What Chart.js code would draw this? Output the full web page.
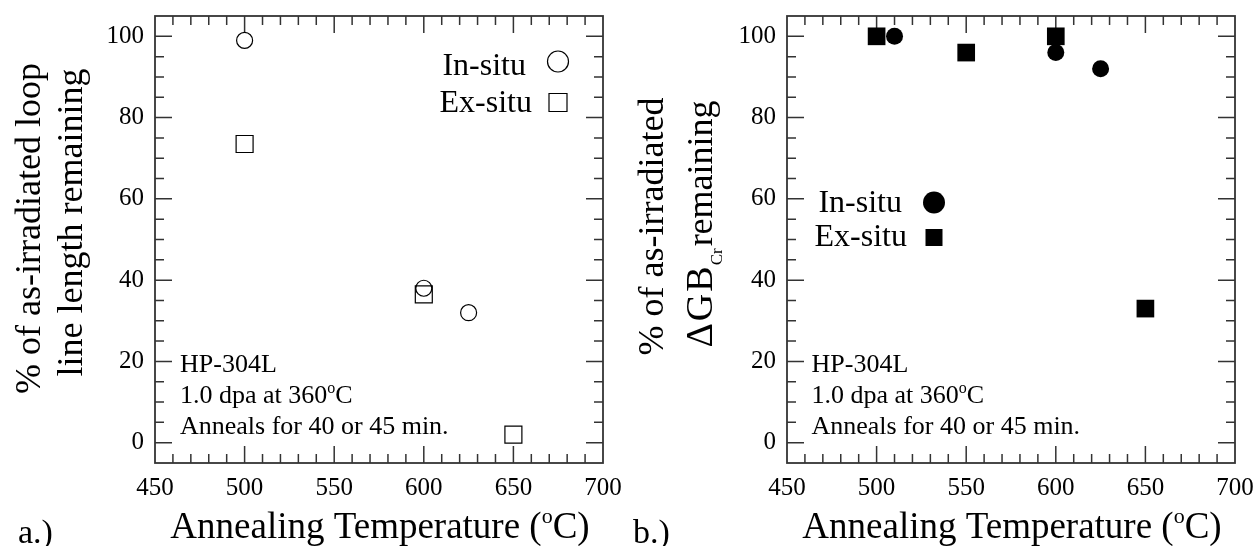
<!DOCTYPE html>
<html>
<head>
<meta charset="utf-8">
<title>Annealing recovery, HP-304L</title>
<script src="https://cdn.jsdelivr.net/npm/chart.js@4.4.0/dist/chart.umd.min.js"></script>
<style>
  html, body { margin: 0; padding: 0; background: #fff; }
  #wrap { position: relative; width: 1260px; height: 546px; overflow: hidden; }
  .panel { position: absolute; top: 0; width: 630px; height: 546px; }
</style>
</head>
<body>
<div id="wrap">
  <div class="panel" style="left:0"><canvas id="loopChart" width="630" height="546"></canvas></div>
  <div class="panel" style="left:630px"><canvas id="crChart" width="630" height="546"></canvas></div>
</div>
<script>
// panel a.) loop line length remaining
const tempInSituA = [500, 600, 625];
const loopInSitu = [99, 38, 32];
const tempExSituA = [500, 600, 650];
const loopExSitu = [73.5, 36.5, 2];

// panel b.) delta GB Cr remaining
const tempInSituB = [510, 600, 625];
const crInSitu = [100, 96, 92];
const tempExSituB = [500, 550, 600, 650];
const crExSitu = [100, 96, 100, 33];

const xTickLabels = [450, 500, 550, 600, 650, 700];
const yTickLabels = [0, 20, 40, 60, 80, 100];

const SERIF = "'Liberation Serif', 'Times New Roman', serif";
const INK = "#000";
const FRAME = "#333";

function font(size) {
  return size + "px " + SERIF;
}

function toPoints(xs, ys) {
  return xs.map((x, i) => ({ x, y: ys[i] }));
}

// runs: [text, size, dy, gapAfter]
function runsWidth(ctx, runs) {
  let w = 0;
  runs.forEach(([text, size, dy, gap]) => {
    ctx.font = font(size);
    w += ctx.measureText(text).width + (gap || 0);
  });
  return w;
}

function drawRuns(ctx, runs, x, y) {
  let cx = x;
  ctx.textAlign = "left";
  ctx.textBaseline = "alphabetic";
  runs.forEach(([text, size, dy, gap]) => {
    ctx.font = font(size);
    ctx.fillText(text, cx, y + (dy || 0));
    cx += ctx.measureText(text).width + (gap || 0);
  });
}

function drawRunsCentered(ctx, runs, cx, y) {
  drawRuns(ctx, runs, cx - runsWidth(ctx, runs) / 2, y);
}

// vertical text, reading bottom to top
function drawVertical(ctx, runs, baseX, centerY) {
  const w = runsWidth(ctx, runs);
  ctx.save();
  ctx.translate(baseX, centerY + w / 2);
  ctx.rotate(-Math.PI / 2);
  drawRuns(ctx, runs, 0, 0);
  ctx.restore();
}

function marker(ctx, style, x, y, size, filled) {
  ctx.beginPath();
  if (style === "circle") {
    ctx.arc(x, y, size / 2, 0, Math.PI * 2);
  } else {
    ctx.rect(x - size / 2, y - size / 2, size, size);
  }
  if (filled) {
    ctx.fill();
  } else {
    ctx.stroke();
  }
}

function legendItem(ctx, label, textRight, baseline, style, mx, my, size, filled) {
  ctx.font = font(32);
  ctx.textAlign = "right";
  ctx.textBaseline = "alphabetic";
  ctx.fillText(label, textRight, baseline);
  marker(ctx, style, mx, my, size, filled);
}

function drawNotes(ctx, x) {
  drawRuns(ctx, [["HP-304L", 26]], x, 371.5);
  drawRuns(ctx, [["1.0 dpa at 360", 26], ["o", 16, -10], ["C", 26]], x, 403);
  drawRuns(ctx, [["Anneals for 40 or 45 min.", 26]], x, 433.5);
}

function drawXTitle(ctx, cx) {
  drawRunsCentered(ctx, [["Annealing Temperature (", 37], ["o", 22, -15], ["C)", 37]], cx, 538);
}

// box frame and inward major/minor ticks on all four sides
const frameTicks = {
  id: "frameTicks",
  beforeDatasetsDraw(chart) {
    const { ctx, chartArea: a, scales } = chart;
    const sx = scales.x;
    const sy = scales.y;
    ctx.save();
    ctx.strokeStyle = FRAME;
    ctx.lineWidth = 1.5;
    ctx.beginPath();
    sx.ticks.forEach((t) => {
      if (t.value <= sx.min || t.value >= sx.max) return;
      const px = sx.getPixelForValue(t.value);
      const len = xTickLabels.includes(t.value) ? 17 : 9;
      ctx.moveTo(px, a.bottom);
      ctx.lineTo(px, a.bottom - len);
      ctx.moveTo(px, a.top);
      ctx.lineTo(px, a.top + len);
    });
    sy.ticks.forEach((t) => {
      if (t.value <= sy.min || t.value >= sy.max) return;
      const py = sy.getPixelForValue(t.value);
      const len = yTickLabels.includes(t.value) ? 17 : 9;
      ctx.moveTo(a.left, py);
      ctx.lineTo(a.left + len, py);
      ctx.moveTo(a.right, py);
      ctx.lineTo(a.right - len, py);
    });
    ctx.stroke();
    ctx.lineWidth = 1.8;
    ctx.strokeRect(a.left, a.top, a.right - a.left, a.bottom - a.top);
    ctx.restore();
  },
};

function makeChart(canvasId, datasets, axisWidth, padRight, decorate) {
  const el = document.getElementById(canvasId);
  if (!el) return null;
  return new Chart(el, {
    type: "scatter",
    data: { datasets },
    options: {
      responsive: false,
      animation: false,
      events: [],
      layout: { padding: { top: 16, right: padRight, left: 0, bottom: 0 } },
      plugins: {
        legend: { display: false },
        tooltip: { enabled: false },
      },
      scales: {
        x: {
          type: "linear",
          min: 450,
          max: 700,
          afterFit: (s) => {
            s.height = 83;
            s.paddingLeft = 0;
            s.paddingRight = 0;
          },
          grid: { display: false, drawTicks: false },
          border: { display: false },
          ticks: {
            stepSize: 10,
            maxTicksLimit: 100,
            autoSkip: false,
            maxRotation: 0,
            padding: 10,
            color: INK,
            font: { family: SERIF, size: 25 },
            callback: (v) => (xTickLabels.includes(v) ? String(v) : ""),
          },
        },
        y: {
          type: "linear",
          min: -5,
          max: 105,
          afterFit: (s) => {
            s.width = axisWidth;
            s.paddingTop = 0;
            s.paddingBottom = 0;
          },
          grid: { display: false, drawTicks: false },
          border: { display: false },
          ticks: {
            stepSize: 5,
            maxTicksLimit: 100,
            autoSkip: false,
            padding: 11,
            color: INK,
            font: { family: SERIF, size: 25 },
            callback: (v) => (yTickLabels.includes(v) ? String(v) : ""),
          },
        },
      },
    },
    plugins: [
      frameTicks,
      {
        id: "decor",
        afterDraw(chart) {
          const ctx = chart.ctx;
          ctx.save();
          ctx.fillStyle = INK;
          ctx.strokeStyle = INK;
          ctx.lineWidth = 1.2;
          decorate(ctx, chart.chartArea);
          ctx.restore();
        },
      },
    ],
  });
}

const hollow = "rgba(0,0,0,0)";

makeChart(
  "loopChart",
  [
    {
      label: "In-situ",
      data: toPoints(tempInSituA, loopInSitu),
      pointStyle: "circle",
      pointRadius: 8,
      pointBackgroundColor: hollow,
      pointBorderColor: INK,
      pointBorderWidth: 1.2,
    },
    {
      label: "Ex-situ",
      data: toPoints(tempExSituA, loopExSitu),
      pointStyle: "rect",
      pointRadius: 12,
      pointBackgroundColor: hollow,
      pointBorderColor: INK,
      pointBorderWidth: 1.2,
    },
  ],
  155,
  27,
  (ctx, a) => {
    drawVertical(ctx, [["% of as-irradiated loop", 36]], 40, 228.5);
    drawVertical(ctx, [["line length remaining", 36]], 82, 222.5);
    legendItem(ctx, "In-situ", 526, 75, "circle", 558, 61.5, 21, false);
    legendItem(ctx, "Ex-situ", 532, 112, "rect", 558, 102.5, 18, false);
    drawNotes(ctx, 180);
    drawXTitle(ctx, (a.left + a.right) / 2 + 1);
    ctx.font = font(34);
    ctx.textAlign = "left";
    ctx.fillText("a.)", 18, 543);
  }
);

makeChart(
  "crChart",
  [
    {
      label: "In-situ",
      data: toPoints(tempInSituB, crInSitu),
      pointStyle: "circle",
      pointRadius: 8.5,
      pointBackgroundColor: INK,
      pointBorderColor: INK,
      pointBorderWidth: 0,
    },
    {
      label: "Ex-situ",
      data: toPoints(tempExSituB, crExSitu),
      pointStyle: "rect",
      pointRadius: 12.5,
      pointBackgroundColor: INK,
      pointBorderColor: INK,
      pointBorderWidth: 0,
    },
  ],
  157,
  25,
  (ctx, a) => {
    drawVertical(ctx, [["% of as-irradiated", 36]], 33, 226.5);
    drawVertical(
      ctx,
      [["\u0394", 38, 0, 2], ["G", 38, 0, 2], ["B", 38, 0, 1], ["Cr", 17, 10, 2], ["remaining", 36]],
      82,
      224
    );
    legendItem(ctx, "In-situ", 272, 212, "circle", 304, 202.5, 22, true);
    legendItem(ctx, "Ex-situ", 277, 246, "rect", 304, 237.5, 17, true);
    drawNotes(ctx, 181.5);
    drawXTitle(ctx, (a.left + a.right) / 2 + 1);
    ctx.font = font(34);
    ctx.textAlign = "left";
    ctx.fillText("b.)", 3, 543);
  }
);
</script>
</body>
</html>
